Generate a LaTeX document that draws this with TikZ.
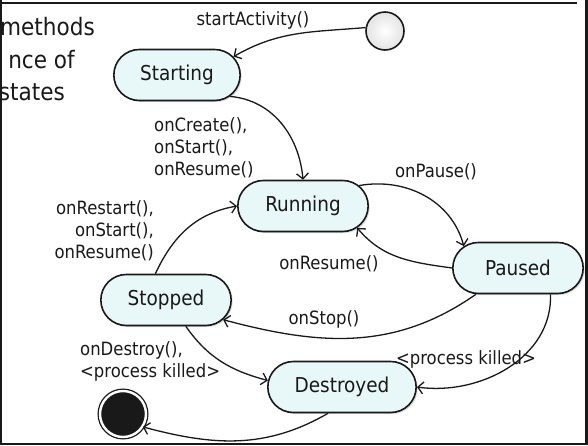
\documentclass[tikz,border=0pt]{standalone}
\usepackage{fontspec}
\setmainfont{DejaVu Sans Condensed}
\usetikzlibrary{shapes.misc,arrows.meta,shadows}

\definecolor{statefill}{RGB}{232,248,248}
\definecolor{ink}{RGB}{25,25,25}

\begin{document}
\begin{tikzpicture}[x=1pt,y=1pt,
    state/.style={draw=ink, rounded rectangle, line width=1.6pt, fill=statefill,
      minimum width=137pt, minimum height=51pt, text=ink,
      font=\fontsize{20.5}{24}\selectfont,
      drop shadow={shadow xshift=1.5pt,shadow yshift=-1.5pt,opacity=0.3}},
    trans/.style={->, draw=ink, line width=1.3pt},
    lbl/.style={font=\fontsize{18.3}{22}\selectfont, text=ink, inner sep=0pt},
    >={Straight Barb[length=5.5pt,width=12pt]}]
    \useasboundingbox (0,0) rectangle (588,-445);

    % frame of the screenshot
    \draw[line width=2pt, ink] (0,-3) -- (577,-3);
    \fill[ink] (0,0) rectangle (2,-445);
    \fill[ink] (585,0) rectangle (588,-445);
    \fill[ink] (0,-443) rectangle (588,-445);

    % cut-off slide title
    \node[anchor=base east, font=\fontsize{24}{28}\selectfont, text=ink, inner sep=0pt] (title1) at (95,-35) {methods};
    \node[anchor=base east, font=\fontsize{24}{28}\selectfont, text=ink, inner sep=0pt] (title2) at (75,-68) {nce of};
    \node[anchor=base east, font=\fontsize{24}{28}\selectfont, text=ink, inner sep=0pt] (title3) at (65,-100) {states};

    % states
    \node[circle, draw=ink, line width=1.6pt, minimum size=38pt, inner color=white, outer color=gray!22] (init) at (385,-31) {};
    \node[state, minimum width=133pt] (start) at (177,-75) {Starting};
    \node[state] (run) at (303,-206) {Running};
    \node[state] (pause) at (518,-268) {Paused};
    \node[state] (stop) at (166,-300) {Stopped};
    \node[state, minimum width=155pt] (destroy) at (342,-387) {Destroyed};
    \node[circle, fill=ink, draw=ink, line width=1.3pt, double=white, double distance=2.4pt, minimum size=46pt] (final) at (123,-414) {};

    % transitions
    \draw[trans] (init.170) to[out=185,in=30] (start.18);
    \draw[trans] (start.-22) to[out=-5,in=95] (run.north);
    \draw[trans] (run.20) to[out=10,in=105] (pause.158);
    \draw[trans] (pause.west) to[out=172,in=-50] (run.-22);
    \draw[trans] (pause.-148) to[out=-145,in=-15] (stop.-19);
    \draw[trans] (stop.112) to[out=65,in=190] (run.west);
    \draw[trans] (stop.-53) to[out=-55,in=165] (destroy.175);
    \draw[trans] (pause.-39) to[out=-88,in=-8] (destroy.east);
    \draw[trans] (destroy.-118) to[out=-150,in=-15] (final.-33);

    % labels
    \node[lbl] (lact) at (253,-20) {startActivity()};
    \node[lbl, anchor=west, align=left] (lcreate) at (154,-148) {onCreate(),\\onStart(),\\onResume()};
    \node[lbl] (lpause) at (436,-172) {onPause()};
    \node[lbl] (lresume) at (329,-264) {onResume()};
    \node[lbl] (lstop) at (324,-319) {onStop()};
    \node[lbl, anchor=east, align=right] (lrestart) at (154,-231) {onRestart(),\\onStart(),\\onResume()};
    \node[lbl, anchor=west, align=left] (ldestroy) at (80,-361) {onDestroy(),\\<process killed>};
    \node[lbl] (lkilled) at (466,-359) {<process killed>};
\end{tikzpicture}
\end{document}
